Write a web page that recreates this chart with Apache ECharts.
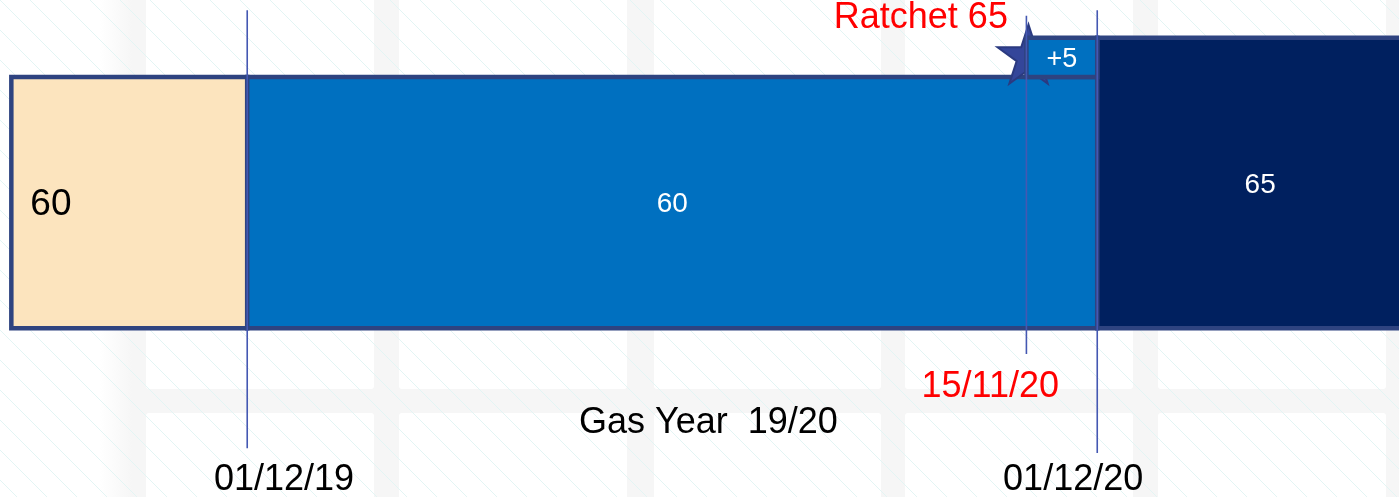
<!DOCTYPE html>
<html>
<head>
<meta charset="utf-8">
<script src="https://cdn.jsdelivr.net/npm/echarts@6/dist/echarts.min.js"></script>
<style>
  html, body { margin: 0; padding: 0; background: #fff; }
  #chart { width: 1399px; height: 497px; }
</style>
</head>
<body>
<div id="chart"></div>
<script>
// x in months from 01/12/19, y in capacity units (diagram not to date scale)
const blockStart = [-3.33, 0, 12];
const blockEnd = [0, 12, 16.6];
const blockLow = [28, 28, 28];
const blockHigh = [60, 60, 65];
const blockLabels = ['60', '60', '65'];

// ratchet increment on 15/11/20
const incStart = [11];
const incEnd = [12];
const incLow = [60];
const incHigh = [65];
const incLabels = ['+5'];

// ratchet event star
const starX = [11.03];
const starY = [62.9];

// date lines
const lineX = [0, 11, 12];
const lineTop = [68.5, 67.8, 68.5];
const lineBottom = [12.7, 24.7, 12.1];

// annotations
const noteText = ['01/12/19', '15/11/20', '01/12/20', 'Gas Year  19/20', 'Ratchet 65'];
const noteX = [0.52, 10.49, 11.66, 6.51, 9.51];
const noteY = [8.7, 20.5, 8.7, 15.9, 67.5];

const FONT = '"Liberation Sans", Arial, sans-serif';
const BORDER = '#2E4380';
const blockStyle = [
  { fill: '#FCE4BE', color: '#000', size: 37, left: true },
  { fill: '#0070C0', color: '#fff', size: 28 },
  { fill: '#00205F', color: '#fff', size: 28 }
];
const noteColor = ['#000', '#FF0000', '#000', '#000', '#FF0000'];

function hatch () {
  let c = document.createElement('canvas');
  c.width = 30;
  c.height = 30;
  let g = c.getContext('2d');
  g.strokeStyle = '#E3F5F4';
  g.lineWidth = 1;
  for (let d of [-30, 0, 30]) {
    g.beginPath();
    g.moveTo(d, 0);
    g.lineTo(d + 30, 30);
    g.stroke();
  }
  return c;
}

// light tile pattern behind the diagram
let bg = [
  { type: 'rect', z: 0, shape: { x: 132, y: 0, width: 1267, height: 497 }, style: { fill: '#F6F6F6' } },
  {
    type: 'rect', z: 0, shape: { x: 100, y: 0, width: 32, height: 497 },
    style: { fill: new echarts.graphic.LinearGradient(0, 0, 1, 0, [{ offset: 0, color: '#ffffff' }, { offset: 1, color: '#F6F6F6' }]) }
  }
];
const cols = [[146, 374], [399, 627], [654, 881], [905, 1133], [1158, 1386]];
const rows = [[-20, 389], [413, 530]];
cols.forEach(c => rows.forEach(r => {
  bg.push({ type: 'rect', z: 0.5, shape: { x: c[0], y: r[0], width: c[1] - c[0], height: r[1] - r[0], r: 3 }, style: { fill: '#fff' } });
}));
bg.push({ type: 'rect', z: 1, shape: { x: 0, y: 0, width: 1399, height: 497 }, style: { fill: { image: hatch(), repeat: 'repeat' } }, silent: true });

function blockItem (style, label) {
  return function (params, api) {
    let i = params.dataIndex;
    let st = style(i);
    let p0 = api.coord([api.value(0), api.value(3)]);
    let p1 = api.coord([api.value(1), api.value(2)]);
    let w = p1[0] - p0[0];
    let h = p1[1] - p0[1];
    return {
      type: 'group',
      children: [
        { type: 'rect', shape: { x: p0[0], y: p0[1], width: w, height: h }, style: { fill: st.fill, stroke: BORDER, lineWidth: 4.5 } },
        {
          type: 'text',
          style: {
            text: label[i],
            x: st.left ? p0[0] + 19 : p0[0] + w / 2,
            y: p0[1] + h / 2 + 2,
            align: st.left ? 'left' : 'center',
            verticalAlign: 'middle',
            font: st.size + 'px ' + FONT,
            fill: st.color
          }
        }
      ]
    };
  };
}

const chart = echarts.init(document.getElementById('chart'));
chart.setOption({
  animation: false,
  backgroundColor: '#fff',
  graphic: { elements: bg },
  grid: { left: 0, right: 0, top: 0, bottom: 0 },
  xAxis: { type: 'value', min: -3.49, max: 16.26, show: false },
  yAxis: { type: 'value', min: 6.5, max: 69.8, show: false },
  series: [
    {
      type: 'custom',
      z: 5,
      renderItem: blockItem(i => blockStyle[i], blockLabels),
      data: blockStart.map((s, i) => [s, blockEnd[i], blockLow[i], blockHigh[i]])
    },
    {
      type: 'scatter',
      z: 6,
      symbol: 'path://M0,-100L22.45,-30.9L95.1,-30.9L36.3,11.8L58.8,80.9L0,38.2L-58.8,80.9L-36.3,11.8L-95.1,-30.9L-22.45,-30.9Z',
      symbolSize: [62, 59],
      itemStyle: { color: '#34469A', borderColor: '#2B3A80', borderWidth: 2, opacity: 1 },
      data: starX.map((x, i) => [x, starY[i]])
    },
    {
      type: 'custom',
      z: 7,
      renderItem: blockItem(() => ({ fill: '#0070C0', color: '#fff', size: 27 }), incLabels),
      data: incStart.map((s, i) => [s, incEnd[i], incLow[i], incHigh[i]])
    },
    {
      type: 'custom',
      z: 8,
      renderItem: function (params, api) {
        let a = api.coord([api.value(0), api.value(1)]);
        let b = api.coord([api.value(0), api.value(2)]);
        return { type: 'line', shape: { x1: a[0], y1: a[1], x2: b[0], y2: b[1] }, style: { stroke: '#4458B2', lineWidth: 1.6 } };
      },
      data: lineX.map((x, i) => [x, lineTop[i], lineBottom[i]])
    },
    {
      type: 'custom',
      z: 9,
      renderItem: function (params, api) {
        let i = params.dataIndex;
        let p = api.coord([api.value(0), api.value(1)]);
        return {
          type: 'text',
          style: { text: noteText[i], x: p[0], y: p[1], align: 'center', verticalAlign: 'middle', font: '36px ' + FONT, fill: noteColor[i] }
        };
      },
      data: noteX.map((x, i) => [x, noteY[i]])
    }
  ]
});
</script>
</body>
</html>
